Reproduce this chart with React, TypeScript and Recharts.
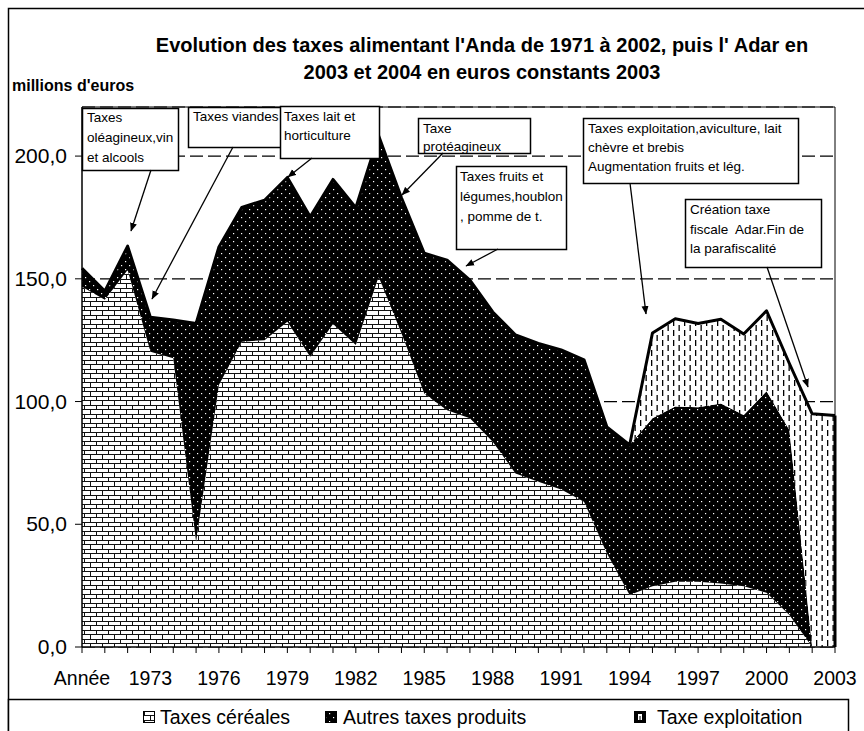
import React from "react";
import {
  AreaChart,
  Area,
  XAxis,
  YAxis,
  CartesianGrid,
  ReferenceArea,
  ReferenceLine,
} from "recharts";

const categories = [
  "Année", "1971", "1972", "1973", "1974", "1975", "1976", "1977", "1978", "1979",
  "1980", "1981", "1982", "1983", "1984", "1985", "1986", "1987", "1988", "1989",
  "1990", "1991", "1992", "1993", "1994", "1995", "1996", "1997", "1998", "1999",
  "2000", "2001", "2002", "2003",
];

const cereales = [
  146.8, 141.5, 153.6, 120.3, 117.6, 42.9, 106.7, 124.4, 125.0, 132.5,
  118.3, 131.6, 123.0, 150.8, 127.8, 103.3, 96.5, 93.2, 83.6, 70.7,
  67.3, 64.2, 59.2, 38.2, 21.2, 24.8, 26.6, 26.6, 25.9, 24.8,
  22.1, 13.0, 0, 0,
];

const autres = [
  7.5, 3.5, 9.7, 14.0, 15.6, 88.9, 56.3, 54.7, 57.0, 58.8,
  57.0, 58.9, 56.0, 57.5, 55.2, 57.1, 61.1, 56.3, 52.9, 56.4,
  56.4, 56.8, 57.8, 51.5, 61.1, 68.4, 71.4, 71.1, 73.3, 69.7,
  82.1, 75.4, 0, 0,
];

const exploitation = [
  0, 0, 0, 0, 0, 0, 0, 0, 0, 0,
  0, 0, 0, 0, 0, 0, 0, 0, 0, 0,
  0, 0, 0, 0, 0, 34.7, 35.7, 34.1, 34.3, 33.0,
  32.8, 27.1, 95.0, 94.3,
];

const yTicks = [0, 50, 100, 150, 200];
const yTickLabels = ["0,0", "50,0", "100,0", "150,0", "200,0"];

const seriesNames = ["Taxes céréales", "Autres taxes produits", "Taxe exploitation"];

const titleLines = [
  "Evolution des taxes alimentant l'Anda de 1971 à 2002, puis l' Adar en",
  "2003 et 2004 en euros constants 2003",
];

const notes = [
  { box: [82, 108, 96, 62], lines: ["Taxes", "oléagineux,vin", "et alcools"], tx: 87, ty: [122, 142, 162], arrow: [151, 170, 131, 231] },
  { box: [188, 107, 94, 40], lines: ["Taxes viandes"], tx: 193, ty: [121], arrow: [233, 147, 152, 299] },
  { box: [280, 106, 99, 52], lines: ["Taxes lait et", "horticulture"], tx: 284, ty: [121, 140], arrow: [312, 158, 288, 177] },
  { box: [418, 118, 112, 35], lines: ["Taxe", "protéagineux"], tx: 423, ty: [133, 151], arrow: [443, 153, 402, 195] },
  { box: [456, 166, 110, 83], lines: ["Taxes fruits et", "légumes,houblon", ", pomme de t."], tx: 460, ty: [181, 201, 221], arrow: [498, 249, 466, 266] },
  { box: [583, 118, 215, 65], lines: ["Taxes exploitation,aviculture, lait", "chèvre et brebis", "Augmentation fruits et lég."], tx: 588, ty: [133, 152, 171], arrow: [630, 183, 646, 314] },
  { box: [685, 199, 136, 68], lines: ["Création taxe", "fiscale  Adar.Fin de", "la parafiscalité"], tx: 690, ty: [214, 234, 253], arrow: [767, 267, 808, 387] },
];

const data = categories.map((c, i) => ({
  cat: c,
  cereales: cereales[i],
  autres: autres[i],
  exploitation: exploitation[i],
}));

const last = categories.length - 1;
const lastTotal = cereales[last] + autres[last] + exploitation[last];

const FONT = "'Liberation Sans', Arial, sans-serif";

const Patterns = ({ prefix }: { prefix: string }) => (
  <defs>
    <pattern id={`${prefix}brick`} width="12" height="9" patternUnits="userSpaceOnUse">
      <rect width="12" height="9" fill="#fff" />
      <path d="M0 0.5H12 M0 4.5H12 M0.5 0.5V4.5 M6.5 4.5V9" stroke="#111" strokeWidth="1" fill="none" />
    </pattern>
    <pattern id={`${prefix}dots`} width="8" height="8" patternUnits="userSpaceOnUse">
      <rect width="8" height="8" fill="#000" />
      <rect x="1" y="1" width="1.2" height="1.2" fill="#fff" />
      <rect x="5" y="5" width="1.2" height="1.2" fill="#fff" />
    </pattern>
    <pattern id={`${prefix}dash`} width="11" height="10" patternUnits="userSpaceOnUse">
      <rect width="11" height="10" fill="#fff" />
      <rect x="2" y="0" width="1.3" height="6" fill="#000" />
      <rect x="7.5" y="5" width="1.3" height="5" fill="#000" />
      <rect x="7.5" y="0" width="1.3" height="1" fill="#000" />
    </pattern>
  </defs>
);

const XTick = (props: any) => {
  const { x, y, payload, index } = props;
  if (index % 3 !== 0) return null;
  return (
    <text x={x} y={y + 30} textAnchor="middle" fontSize={19.5} fontFamily={FONT} fill="#000">
      {payload.value}
    </text>
  );
};

const YTick = (props: any) => {
  const { x, y, payload } = props;
  const i = yTicks.indexOf(payload.value);
  return (
    <text x={x - 6} y={y + 7} textAnchor="end" fontSize={21} fontFamily={FONT} fill="#000">
      {yTickLabels[i]}
    </text>
  );
};

export default function App() {
  return (
    <div style={{ position: "absolute", left: 0, top: 0, width: 864, height: 731, background: "#fff", overflow: "hidden" }}>
      <div style={{ position: "absolute", left: 0, top: 0 }}>
        <AreaChart width={864} height={731} data={data} margin={{ top: 107, right: 29, bottom: 44, left: 12 }}>
          <Patterns prefix="c-" />
          <CartesianGrid vertical={false} stroke="#000" strokeWidth={1.2} strokeDasharray="13 5" />
          <XAxis
            dataKey="cat"
            interval={0}
            tick={<XTick />}
            tickSize={6}
            height={40}
            axisLine={{ stroke: "#000", strokeWidth: 1 }}
            tickLine={{ stroke: "#000", strokeWidth: 1 }}
          />
          <YAxis
            domain={[0, 220]}
            ticks={yTicks}
            width={70}
            tickSize={7}
            tick={<YTick />}
            axisLine={{ stroke: "#000", strokeWidth: 1 }}
            tickLine={{ stroke: "#000", strokeWidth: 1 }}
          />
          <Area type="linear" dataKey="cereales" name={seriesNames[0]} stackId="s" fill="url(#c-brick)" fillOpacity={1} stroke="none" isAnimationActive={false} />
          <Area type="linear" dataKey="autres" name={seriesNames[1]} stackId="s" fill="url(#c-dots)" fillOpacity={1} stroke="none" isAnimationActive={false} />
          <Area type="linear" dataKey="exploitation" name={seriesNames[2]} stackId="s" fill="url(#c-dash)" fillOpacity={1} stroke="#000" strokeWidth={3} strokeLinejoin="round" isAnimationActive={false} />
          <ReferenceLine segment={[{ x: categories[last], y: 0 }, { x: categories[last], y: lastTotal }]} stroke="#000" strokeWidth={3} />
          <ReferenceArea x1={categories[0]} x2={categories[last]} y1={0} y2={220} fill="none" stroke="#000" strokeWidth={1} ifOverflow="visible" />
        </AreaChart>
      </div>
      <svg width={864} height={731} style={{ position: "absolute", left: 0, top: 0, pointerEvents: "none" }}>
        <Patterns prefix="o-" />
        <defs>
          <marker id="arr" markerWidth="9" markerHeight="8" refX="8" refY="4" orient="auto" markerUnits="userSpaceOnUse">
            <path d="M0,0.5 L8.5,4 L0,7.5 z" fill="#000" />
          </marker>
        </defs>
        {/* outer frame */}
        <rect x={8.5} y={8.5} width={900} height={800} fill="none" stroke="#000" strokeWidth={1.5} />
        <rect x={8.5} y={699.5} width={840} height={100} fill="#fff" stroke="#000" strokeWidth={1.5} />
        {/* title */}
        {titleLines.map((t, i) => (
          <text key={i} x={482} y={52 + i * 27} textAnchor="middle" fontSize={20} fontWeight="bold" fontFamily={FONT} fill="#000">
            {t}
          </text>
        ))}
        <text x={12} y={91} fontSize={16} fontWeight="bold" fontFamily={FONT} fill="#000">
          millions d'euros
        </text>
        {/* annotations */}
        {notes.map((n, i) => (
          <g key={i}>
            <rect x={n.box[0] + 0.5} y={n.box[1] + 0.5} width={n.box[2]} height={n.box[3]} fill="#fff" stroke="#000" strokeWidth={1.5} />
            {n.lines.map((l, j) => (
              <text key={j} x={n.tx} y={n.ty[j]} fontSize={13.5} fontFamily={FONT} fill="#000" style={{ whiteSpace: "pre" }}>
                {l}
              </text>
            ))}
            <line x1={n.arrow[0]} y1={n.arrow[1]} x2={n.arrow[2]} y2={n.arrow[3]} stroke="#000" strokeWidth={1.3} markerEnd="url(#arr)" />
          </g>
        ))}
        {/* legend */}
        <rect x={143.5} y={711.5} width={11} height={11} fill="url(#o-brick)" stroke="#000" strokeWidth={1} />
        <text x={160} y={724} fontSize={19.5} fontFamily={FONT} fill="#000">{seriesNames[0]}</text>
        <rect x={325.5} y={711.5} width={11} height={11} fill="url(#o-dots)" stroke="#000" strokeWidth={1} />
        <text x={343} y={724} fontSize={19.5} fontFamily={FONT} fill="#000">{seriesNames[1]}</text>
        <rect x={634} y={711} width={12} height={12} fill="#000" />
        <rect x={638} y={714} width={4} height={6} fill="#fff" />
        <rect x={639.5} y={716} width={1} height={4} fill="#000" />
        <text x={657} y={724} fontSize={19.5} fontFamily={FONT} fill="#000">{seriesNames[2]}</text>
      </svg>
    </div>
  );
}
